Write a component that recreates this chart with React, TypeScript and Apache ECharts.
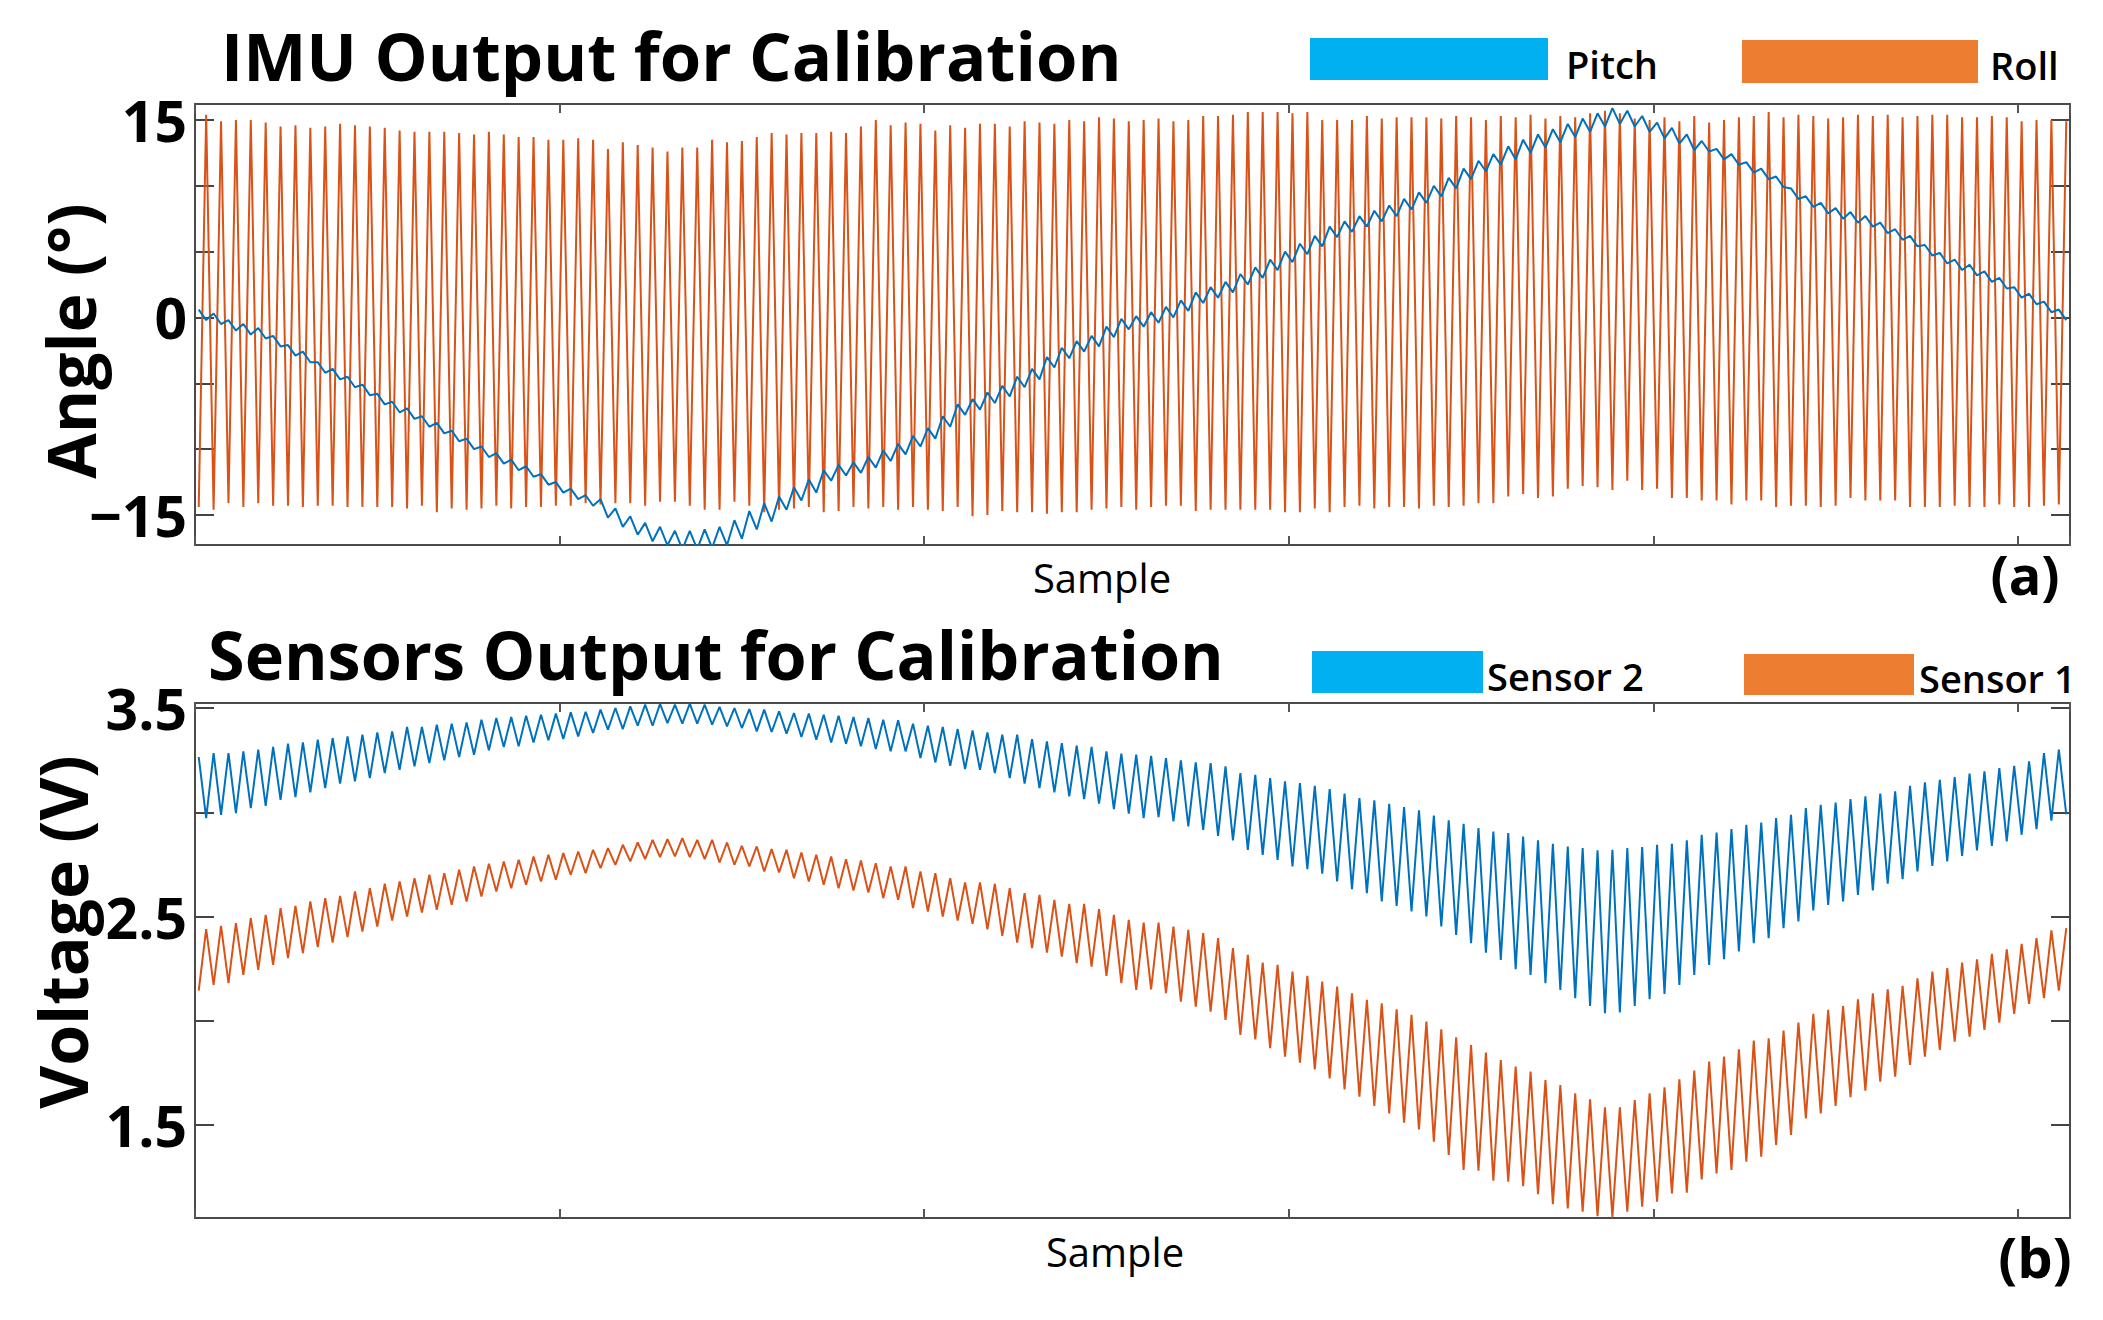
import React, { useEffect, useRef } from "react";
import * as echarts from "echarts";

// ---- Data (one value per roll cycle, 126 cycles) ----
const rollPeaks = [
  15.4, 14.9, 15.0, 15.0, 14.8, 14.5, 14.6, 14.4, 14.5, 14.7, 14.6, 14.5, 14.4, 14.2, 14.1, 14.1, 14.1, 14.0, 13.9, 14.1, 13.9, 13.7, 13.7, 13.5, 13.5, 13.6, 13.5, 12.8, 13.3, 13.1, 12.9, 12.6,
  12.9, 12.9, 13.5, 13.3, 13.4, 13.7, 14.0, 13.9, 14.0, 14.0, 14.1, 14.0, 14.5, 15.0, 14.6, 14.8, 14.7, 14.2, 14.6, 14.4, 14.7, 14.7, 14.5, 14.9, 14.8, 14.7, 15.0, 14.9, 15.2, 15.1, 14.9,
  15.0, 15.1, 14.9, 15.0, 15.3, 15.3, 15.4, 15.6, 15.6, 15.6, 15.5, 15.6, 15.0, 15.0, 15.0, 15.3, 15.1, 15.2, 15.2, 15.2, 15.1, 15.3, 15.2, 15.0, 15.3, 15.2, 15.4, 15.1, 15.3, 15.2, 15.5, 15.7,
  15.5, 15.1, 15.0, 15.2, 14.9, 15.3, 14.8, 15.0, 15.2, 15.3, 15.6, 15.2, 15.4, 15.3, 15.1, 15.2, 15.4, 15.3, 15.4, 15.2, 15.3, 15.4, 15.4, 15.2, 15.2, 15.3, 15.2, 14.9, 15.0, 15.0, 14.9,
];
const rollTroughs = [
  -14.4, -14.6, -14.1, -14.4, -14.1, -14.3, -14.3, -14.4, -14.3, -14.3, -14.4, -14.4, -14.4, -14.4, -14.5, -14.3, -14.8, -14.5, -14.6, -14.5, -14.3, -14.5, -14.4, -14.4, -14.3, -14.3, -14.1, -14.2, -14.1, -14.1, -14.3, -14.0,
  -14.0, -14.3, -14.6, -14.6, -14.0, -14.3, -14.8, -14.6, -14.5, -14.4, -14.8, -14.7, -14.4, -14.5, -14.4, -14.6, -14.4, -14.6, -14.7, -14.4, -15.1, -15.0, -14.7, -14.8, -14.8, -14.9, -14.8, -14.8, -14.6, -14.5, -14.4,
  -14.6, -14.4, -14.3, -14.3, -14.7, -14.6, -14.6, -14.6, -14.6, -14.6, -14.8, -14.8, -14.5, -14.8, -14.4, -14.3, -14.5, -14.4, -14.4, -14.5, -14.3, -14.4, -14.3, -14.1, -14.1, -13.6, -13.4, -13.7, -13.6, -13.0, -12.8, -12.9,
  -13.1, -12.4, -13.1, -13.0, -13.7, -13.7, -13.9, -13.9, -14.2, -13.9, -13.9, -14.4, -14.3, -14.3, -14.4, -14.3, -13.7, -13.9, -13.9, -13.9, -14.4, -14.4, -14.4, -14.3, -14.4, -14.4, -14.2, -14.4, -14.4, -14.3, -14.2,
];
const pitchAtRollTrough = [
  0.6, 0.3, -0.2, -0.5, -0.8, -1.4, -2.1, -2.6, -3.4, -3.9,
  -4.5, -5.1, -5.8, -6.4, -6.9, -7.5, -8.0, -8.6, -9.2, -9.8,
  -10.3, -10.8, -11.3, -11.9, -12.5, -13.0, -13.5, -13.8, -14.5, -15.1,
  -15.6, -15.9, -16.2, -16.2, -16.1, -15.9, -15.4, -14.7, -14.1, -13.6,
  -12.9, -12.3, -11.6, -11.2, -11.0, -10.6, -10.1, -9.6, -9.0, -8.4,
  -7.5, -6.6, -6.2, -5.7, -5.2, -4.5, -3.9, -3.0, -2.3, -1.8,
  -1.4, -0.7, -0.1, 0.1, 0.4, 0.8, 1.3, 1.9, 2.3, 2.7,
  3.3, 3.8, 4.4, 5.0, 5.6, 6.2, 6.9, 7.3, 7.7, 8.1,
  8.5, 9.0, 9.5, 10.0, 10.6, 11.3, 11.9, 12.4, 13.0, 13.5,
  13.9, 14.3, 14.7, 15.1, 15.5, 15.9, 15.7, 15.3, 14.8, 14.4,
  13.9, 13.4, 12.8, 12.4, 11.8, 11.3, 10.7, 9.8, 9.2, 8.7,
  8.3, 8.0, 7.7, 7.2, 6.7, 6.2, 5.5, 4.9, 4.4, 4.0,
  3.5, 3.0, 2.3, 1.8, 1.2, 0.6,
];
const pitchAtRollPeak = [
  -0.2, -0.5, -1.0, -1.3, -1.6, -2.2, -2.9, -3.4, -4.2, -4.7,
  -5.3, -5.9, -6.6, -7.2, -7.7, -8.3, -8.8, -9.4, -10.0, -10.6,
  -11.1, -11.6, -12.1, -12.7, -13.3, -13.8, -14.3, -15.2, -15.9, -16.5,
  -17.0, -17.3, -17.6, -17.6, -17.5, -17.3, -16.8, -16.1, -15.5, -14.6,
  -13.9, -13.3, -12.4, -12.0, -11.8, -11.4, -10.9, -10.4, -9.8, -9.2,
  -8.3, -7.4, -7.0, -6.5, -6.0, -5.3, -4.7, -3.8, -3.1, -2.6,
  -2.2, -1.5, -0.9, -0.7, -0.4, 0.0, 0.5, 1.1, 1.5, 1.9,
  2.5, 3.0, 3.6, 4.2, 4.8, 5.4, 6.1, 6.5, 6.9, 7.3,
  7.7, 8.2, 8.7, 9.2, 9.8, 10.5, 11.1, 11.6, 12.0, 12.5,
  12.9, 13.3, 13.7, 14.1, 14.5, 14.7, 14.5, 14.1, 13.6, 13.2,
  12.7, 12.6, 12.0, 11.6, 11.0, 10.5, 9.9, 9.0, 8.4, 7.9,
  7.5, 7.2, 6.9, 6.4, 5.9, 5.4, 4.7, 4.1, 3.6, 3.2,
  2.7, 2.2, 1.5, 1.0, 0.4, -0.2,
];
// Sensor 2 (blue): high at roll troughs, low at roll peaks
const sensor2High = [
  3.265, 3.284, 3.284, 3.292, 3.30, 3.313, 3.329, 3.335, 3.348, 3.356, 3.364, 3.372, 3.383, 3.388, 3.409, 3.409, 3.42, 3.425, 3.431, 3.444, 3.452, 3.457, 3.463, 3.468, 3.473, 3.479, 3.482, 3.492, 3.50, 3.508, 3.516, 3.52,
  3.516, 3.521, 3.516, 3.505, 3.50, 3.495, 3.492, 3.484, 3.476, 3.473, 3.468, 3.463, 3.457, 3.452, 3.444, 3.441, 3.425, 3.415, 3.409, 3.399, 3.393, 3.383, 3.372, 3.372, 3.351, 3.34, 3.332, 3.319, 3.313, 3.292, 3.281, 3.276,
  3.271, 3.26, 3.249, 3.239, 3.236, 3.22, 3.188, 3.18, 3.164, 3.148, 3.14, 3.127, 3.111, 3.089, 3.068, 3.057, 3.041, 3.025, 3.009, 2.984, 2.961, 2.945, 2.924, 2.908, 2.90, 2.884, 2.865, 2.849, 2.836, 2.828, 2.817,
  2.82, 2.828, 2.833, 2.844, 2.849, 2.865, 2.892, 2.903, 2.919, 2.94, 2.951, 2.972, 2.988, 3.02, 3.036, 3.047, 3.063, 3.076, 3.089, 3.10, 3.127, 3.143, 3.156, 3.169, 3.185, 3.196, 3.212, 3.223, 3.244, 3.284, 3.30,
];
const sensor2Low = [
  2.972, 2.988, 2.996, 3.02, 3.031, 3.06, 3.073, 3.095, 3.116, 3.137, 3.148, 3.164, 3.188, 3.204, 3.22, 3.236, 3.249, 3.265, 3.276, 3.297, 3.313, 3.316, 3.335, 3.345, 3.351, 3.364, 3.38, 3.396, 3.399, 3.415, 3.415, 3.428,
  3.425, 3.425, 3.42, 3.412, 3.404, 3.388, 3.385, 3.377, 3.361, 3.348, 3.335, 3.329, 3.316, 3.303, 3.292, 3.292, 3.26, 3.239, 3.223, 3.207, 3.204, 3.188, 3.164, 3.137, 3.116, 3.095, 3.076, 3.063, 3.041, 3.015, 2.993,
  2.972, 2.977, 2.956, 2.932, 2.916, 2.887, 2.865, 2.82, 2.796, 2.772, 2.74, 2.727, 2.705, 2.668, 2.631, 2.612, 2.572, 2.551, 2.524, 2.50, 2.452, 2.412, 2.372, 2.327, 2.292, 2.247, 2.22, 2.18, 2.148, 2.108, 2.071, 2.036,
  2.04, 2.071, 2.103, 2.129, 2.172, 2.22, 2.268, 2.295, 2.332, 2.372, 2.396, 2.444, 2.476, 2.529, 2.556, 2.572, 2.604, 2.625, 2.657, 2.679, 2.716, 2.743, 2.764, 2.791, 2.817, 2.839, 2.86, 2.892, 2.919, 2.96, 2.99,
];
// Sensor 1 (orange): high at roll peaks, low at roll troughs
const sensor1High = [
  2.439, 2.455, 2.468, 2.492, 2.508, 2.54, 2.551, 2.572, 2.588, 2.599, 2.62, 2.636, 2.657, 2.668, 2.684, 2.70, 2.708, 2.724, 2.74, 2.753, 2.764, 2.772, 2.788, 2.796, 2.804, 2.812, 2.82, 2.828, 2.844, 2.855, 2.868, 2.871,
  2.876, 2.868, 2.868, 2.855, 2.839, 2.836, 2.823, 2.82, 2.807, 2.796, 2.788, 2.775, 2.769, 2.756, 2.74, 2.74, 2.716, 2.708, 2.684, 2.663, 2.663, 2.657, 2.636, 2.612, 2.604, 2.58, 2.561, 2.561, 2.535, 2.508, 2.484,
  2.471, 2.471, 2.452, 2.436, 2.42, 2.396, 2.348, 2.316, 2.279, 2.268, 2.236, 2.215, 2.188, 2.164, 2.132, 2.10, 2.084, 2.055, 2.028, 1.996, 1.959, 1.921, 1.884, 1.847, 1.812, 1.78, 1.756, 1.716, 1.692, 1.652, 1.623, 1.585,
  1.585, 1.62, 1.652, 1.681, 1.719, 1.761, 1.804, 1.828, 1.863, 1.905, 1.916, 1.953, 1.991, 2.033, 2.052, 2.071, 2.103, 2.132, 2.151, 2.167, 2.204, 2.236, 2.252, 2.279, 2.295, 2.321, 2.343, 2.369, 2.396, 2.433, 2.444,
];
const sensor1Low = [
  2.145, 2.172, 2.18, 2.22, 2.244, 2.268, 2.30, 2.324, 2.353, 2.375, 2.401, 2.428, 2.452, 2.481, 2.50, 2.519, 2.532, 2.556, 2.572, 2.596, 2.62, 2.636, 2.652, 2.668, 2.676, 2.70, 2.708, 2.732, 2.748, 2.764, 2.775, 2.785,
  2.788, 2.785, 2.775, 2.759, 2.748, 2.74, 2.716, 2.711, 2.684, 2.668, 2.652, 2.636, 2.625, 2.615, 2.588, 2.58, 2.54, 2.524, 2.50, 2.481, 2.465, 2.439, 2.407, 2.375, 2.348, 2.327, 2.308, 2.276, 2.26, 2.215, 2.18, 2.148,
  2.151, 2.132, 2.092, 2.068, 2.044, 2.004, 1.932, 1.911, 1.868, 1.828, 1.799, 1.767, 1.724, 1.671, 1.636, 1.591, 1.556, 1.511, 1.479, 1.42, 1.356, 1.284, 1.281, 1.233, 1.228, 1.207, 1.168, 1.12, 1.10, 1.084, 1.063,
  1.057, 1.084, 1.108, 1.132, 1.172, 1.175, 1.239, 1.268, 1.284, 1.324, 1.348, 1.404, 1.452, 1.532, 1.556, 1.591, 1.633, 1.665, 1.708, 1.732, 1.788, 1.828, 1.86, 1.90, 1.924, 1.956, 1.991, 2.033, 2.081, 2.108, 2.145,
];

const angleTicks = [-15, -10, -5, 0, 5, 10, 15];
const angleLabels = [-15, 0, 15];
const voltTicks = [1.5, 2, 2.5, 3, 3.5];
const voltLabels = [1.5, 2.5, 3.5];

// Sample axis: each half roll-cycle spans 10 samples, first point at sample 5
const FIRST_SAMPLE = 5;
const HALF_CYCLE = 10;
const SAMPLE_MAX = 2520;
const SAMPLE_TICK = 490;

function alternate(first: number[], second: number[]) {
  const out: number[][] = [];
  for (let k = 0; k < first.length; k++) {
    out.push([FIRST_SAMPLE + 2 * k * HALF_CYCLE, first[k]]);
    out.push([FIRST_SAMPLE + (2 * k + 1) * HALF_CYCLE, second[k]]);
  }
  return out;
}

const BLUE = "#0072BD";
const ORANGE = "#D95319";
const FONT = "Open Sans";
const AXIS_COLOR = "#4a4a4a";

function fmtNum(v: number) {
  return v < 0 ? "\u2212" + String(Math.abs(v)) : String(v);
}

export default function App() {
  const ref = useRef<HTMLDivElement>(null);
  useEffect(() => {
    document.body.style.margin = "0";
    if (!ref.current) return;
    const chart = echarts.init(ref.current, undefined, { renderer: "svg" });

    const xCommon = (gridIndex: number, position: string) => ({
      type: "value",
      gridIndex,
      position,
      min: 0,
      max: SAMPLE_MAX,
      interval: SAMPLE_TICK,
      axisLine: { show: true, onZero: false, lineStyle: { color: AXIS_COLOR, width: 2 } },
      axisTick: { show: true, inside: true, length: 9, lineStyle: { color: "#555", width: 2 } },
      axisLabel: { show: false },
      splitLine: { show: false },
    });
    const yCommon = (gridIndex: number, position: string, min: number, max: number, ticks: number[], labels: number[] | null) => ({
      type: "value",
      gridIndex,
      position,
      min,
      max,
      axisLine: { show: true, onZero: false, lineStyle: { color: AXIS_COLOR, width: 2 } },
      axisTick: { show: true, inside: true, length: 19, customValues: ticks, lineStyle: { color: "#444", width: 2 } },
      axisLabel: labels
        ? {
            show: true,
            customValues: labels,
            formatter: (v: number) => fmtNum(v),
            fontSize: 57,
            fontWeight: "bold",
            fontFamily: FONT,
            color: "#000",
            margin: 8,
          }
        : { show: false },
      splitLine: { show: false },
    });

    const lineSeries = (name: string, color: string, xi: number, yi: number, data: number[][], z: number) => ({
      name,
      type: "line",
      xAxisIndex: xi,
      yAxisIndex: yi,
      data,
      showSymbol: false,
      symbol: "none",
      clip: true,
      z,
      lineStyle: { color, width: 2 },
      emphasis: { disabled: true },
    });

    const text = (t: string, x: number, y: number, size: number, weight: string, align: string, rotation = 0) => ({
      type: "text",
      x,
      y,
      rotation,
      style: {
        text: t,
        fontSize: size,
        fontWeight: weight,
        fontFamily: FONT,
        fill: "#000",
        align,
        verticalAlign: "middle",
      },
    });

    chart.setOption({
      animation: false,
      backgroundColor: "#ffffff",
      grid: [
        { left: 195, top: 104, width: 1875, height: 441 },
        { left: 195, top: 703, width: 1875, height: 515 },
      ],
      xAxis: [xCommon(0, "bottom"), xCommon(0, "top"), xCommon(1, "bottom"), xCommon(1, "top")],
      yAxis: [
        yCommon(0, "left", -17.28, 16.21, angleTicks, angleLabels),
        yCommon(0, "right", -17.28, 16.21, angleTicks, null),
        yCommon(1, "left", 1.054, 3.524, voltTicks, voltLabels),
        yCommon(1, "right", 1.054, 3.524, voltTicks, null),
      ],
      series: [
        lineSeries("Roll", ORANGE, 0, 0, alternate(rollTroughs, rollPeaks), 2),
        lineSeries("Pitch", BLUE, 0, 0, alternate(pitchAtRollTrough, pitchAtRollPeak), 3),
        lineSeries("Sensor 2", BLUE, 2, 2, alternate(sensor2High, sensor2Low), 2),
        lineSeries("Sensor 1", ORANGE, 2, 2, alternate(sensor1Low, sensor1High), 2),
      ],
      graphic: [
        text("IMU Output for Calibration", 221, 55, 67, "bold", "left"),
        text("Sensors Output for Calibration", 208, 654, 66.5, "bold", "left"),
        { type: "rect", shape: { x: 1310, y: 38, width: 238, height: 42 }, style: { fill: "#00B0F0" } },
        text("Pitch", 1566, 64, 38, "600", "left"),
        { type: "rect", shape: { x: 1742, y: 40, width: 236, height: 43 }, style: { fill: "#ED7D31" } },
        text("Roll", 1990, 65, 38, "600", "left"),
        { type: "rect", shape: { x: 1312, y: 651, width: 171, height: 42 }, style: { fill: "#00B0F0" } },
        text("Sensor 2", 1487, 676, 38, "600", "left"),
        { type: "rect", shape: { x: 1744, y: 654, width: 170, height: 41 }, style: { fill: "#ED7D31" } },
        text("Sensor 1", 1919, 678, 38, "600", "left"),
        text("Sample", 1102, 577, 40, "normal", "center"),
        text("Sample", 1115, 1251, 40, "normal", "center"),
        text("(a)", 2025, 574, 54, "bold", "center"),
        text("(b)", 2035, 1256, 56, "bold", "center"),
        text("Angle (°)", 70, 341, 66, "bold", "center", Math.PI / 2),
        text("Voltage (V)", 62, 932, 66, "bold", "center", Math.PI / 2),
      ],
    });
    return () => chart.dispose();
  }, []);
  return (
    <div
      ref={ref}
      style={{ position: "absolute", left: 0, top: 0, width: 2103, height: 1320, background: "#fff" }}
    />
  );
}
